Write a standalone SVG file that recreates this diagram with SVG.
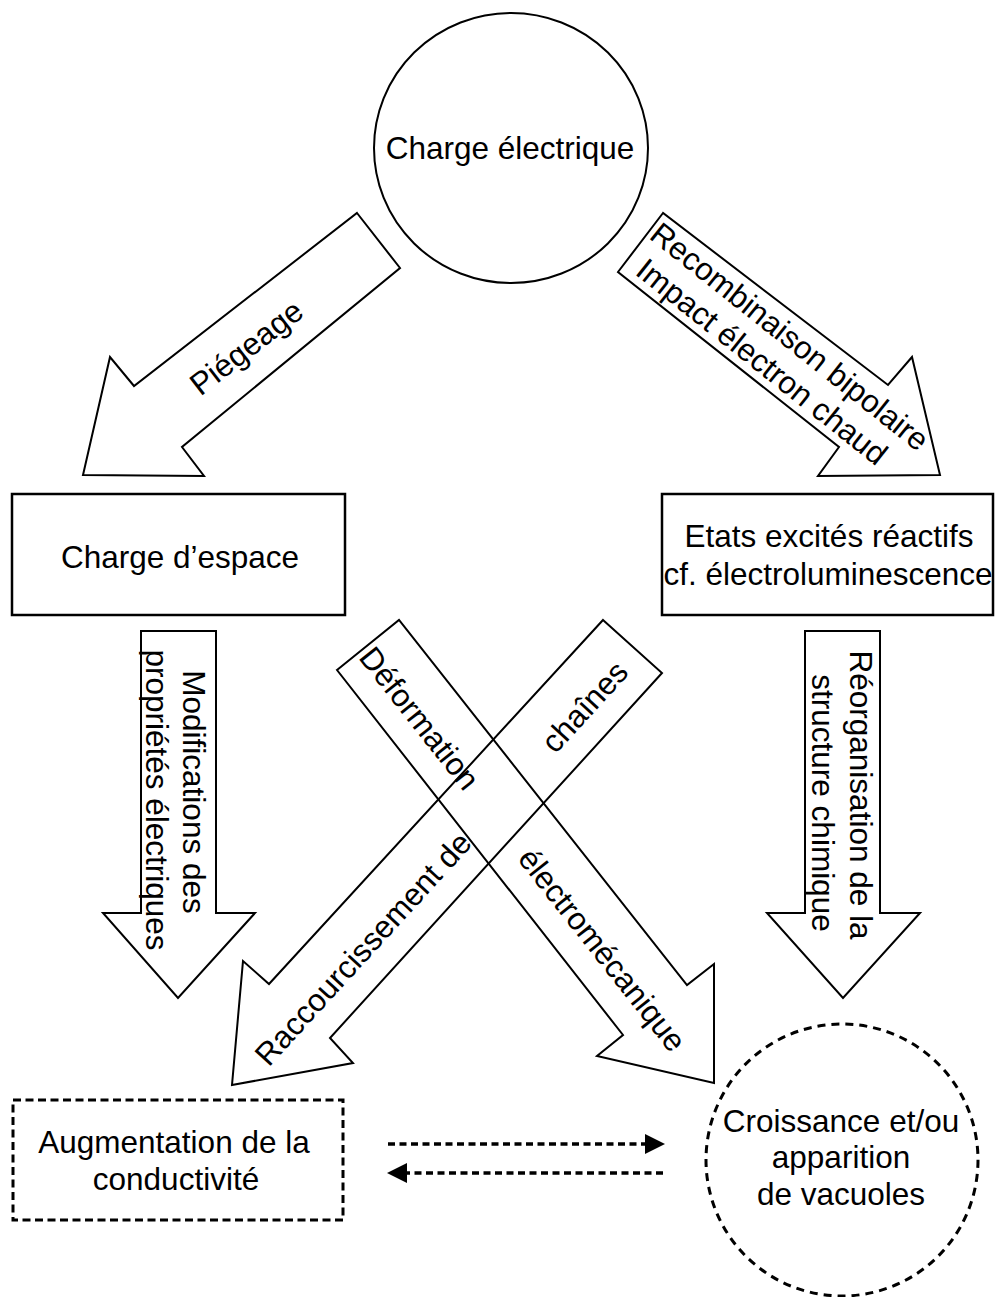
<svg xmlns="http://www.w3.org/2000/svg" width="999" height="1297" viewBox="0 0 999 1297">
<style>
text{font-family:"Liberation Sans",Arial,sans-serif;font-size:31.5px;fill:#000}
.big{fill:#fff;stroke:#000;stroke-width:2;stroke-linejoin:miter}
.open{fill:none;stroke:#000;stroke-width:2}
.box{fill:#fff;stroke:#000;stroke-width:2.5}
.dbox{fill:#fff;stroke:#000;stroke-width:3;stroke-dasharray:8 4.5}
.dcirc{fill:none;stroke:#000;stroke-width:3;stroke-dasharray:8 6}
.dline{stroke:#000;stroke-width:3.5;stroke-dasharray:7 4.5;fill:none}
.mid{text-anchor:middle}
</style>
<defs>
<marker id="tri" markerUnits="userSpaceOnUse" markerWidth="20" markerHeight="20" viewBox="0 0 18 18" refX="0" refY="9" orient="auto">
<path d="M0,0 L18,9 L0,18 Z" fill="#000"/>
</marker>
</defs>

<g id="connectors">
  <g id="arrow-piegeage">
    <polygon class="big" points="357,213 400,268 182,447 204,476 83,475 110,357 134,386"/>
    <text class="mid" transform="translate(253,356) rotate(-37.8)">Piégeage</text>
  </g>
  <g id="arrow-recombinaison">
    <polygon class="big" points="663,213 618,272 839,447 818,476 940,475 912,357 888,385"/>
    <text class="mid" transform="translate(783,345) rotate(38.5)"><tspan x="0" y="0">Recombinaison bipolaire</tspan><tspan x="-6" y="37">Impact électron chaud</tspan></text>
  </g>
  <g id="arrow-modifications">
    <polygon class="big" points="141,631 216,631 216,913 255,913 178,998 103,913 141,913"/>
    <text class="mid" transform="translate(183,800) rotate(90)"><tspan x="-8" y="0">Modifications des</tspan><tspan x="0" y="37">propriétés électriques</tspan></text>
  </g>
  <g id="arrow-reorganisation">
    <polygon class="big" points="805,631 880,631 880,913 920,913 843,998 767,913 805,913"/>
    <text class="mid" transform="translate(850,797) rotate(90)"><tspan x="-2" y="0">Réorganisation de la</tspan><tspan x="6" y="38">structure chimique</tspan></text>
  </g>
  <g id="arrow-deformation">
    <polygon class="open" points="337,670 399,620 687,985 714,964 714,1083 597,1056 623,1035"/>
    <text class="mid" transform="translate(411,725) rotate(51.7)"><tspan x="0" y="0">Déformation</tspan><tspan x="295" y="0">électromécanique</tspan></text>
  </g>
  <g id="arrow-raccourcissement">
    <polygon class="open" points="603,620 662,673 330,1038 353,1063 232,1085 243,961 269,984"/>
    <text class="mid" transform="translate(371,956) rotate(-47.5)"><tspan x="0" y="0">Raccourcissement de</tspan><tspan x="328" y="0">chaînes</tspan></text>
  </g>
  <g id="dashed-arrows">
    <line class="dline" x1="388" y1="1144" x2="645" y2="1144" marker-end="url(#tri)"/>
    <line class="dline" x1="663" y1="1173" x2="407" y2="1173" marker-end="url(#tri)"/>
  </g>
</g>

<g id="node-charge-electrique">
  <ellipse class="box" cx="511" cy="148" rx="137" ry="135" style="stroke-width:2"/>
  <text class="mid" x="510" y="159">Charge électrique</text>
</g>
<g id="node-charge-espace">
  <rect class="box" x="12" y="494" width="333" height="121"/>
  <text class="mid" x="180" y="568">Charge d’espace</text>
</g>
<g id="node-etats-excites">
  <rect class="box" x="662" y="494" width="331" height="121"/>
  <text class="mid" x="829" y="547">Etats excités réactifs</text>
  <text class="mid" x="828" y="585">cf. électroluminescence</text>
</g>
<g id="node-conductivite">
  <rect class="dbox" x="13" y="1100" width="330" height="120"/>
  <text class="mid" x="174" y="1153">Augmentation de la</text>
  <text class="mid" x="176" y="1190">conductivité</text>
</g>
<g id="node-vacuoles">
  <circle class="dcirc" cx="842" cy="1160" r="136"/>
  <text class="mid" x="841" y="1132">Croissance et/ou</text>
  <text class="mid" x="841" y="1168">apparition</text>
  <text class="mid" x="841" y="1205">de vacuoles</text>
</g>
</svg>
